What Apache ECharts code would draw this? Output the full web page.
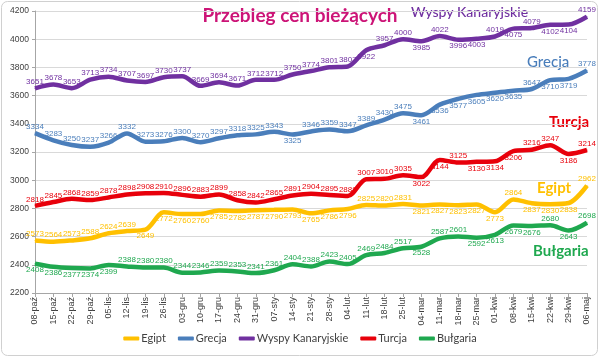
<!DOCTYPE html>
<html>
<head>
<meta charset="utf-8">
<script src="https://cdn.jsdelivr.net/npm/echarts@6/dist/echarts.min.js"></script>
<style>html,body{margin:0;padding:0;background:#fff;}#c{width:600px;height:359px;}</style>
</head>
<body>
<div id="c"></div>
<script>
const categories = ['08-paź','15-paź','22-paź','29-paź','05-lis','12-lis','19-lis','26-lis','03-gru','10-gru','17-gru','24-gru','31-gru','07-sty','14-sty','21-sty','28-sty','04-lut','11-lut','18-lut','25-lut','04-mar','11-mar','18-mar','25-mar','01-kwi','08-kwi','15-kwi','22-kwi','29-kwi','06-maj'];
const egipt = [2573,2564,2573,2588,2624,2639,2649,2772,2760,2760,2785,2782,2787,2790,2793,2765,2786,2796,2825,2820,2831,2821,2827,2823,2827,2773,2864,2837,2830,2838,2962];
const grecja = [3334,3283,3250,3237,3266,3332,3273,3276,3300,3270,3297,3318,3325,3343,3325,3346,3359,3347,3389,3430,3475,3461,3536,3577,3605,3620,3635,3647,3710,3719,3778];
const wyspy = [3651,3678,3653,3713,3734,3707,3697,3730,3737,3669,3694,3671,3712,3712,3750,3774,3801,3807,3922,3957,4000,3985,4022,3996,4003,4019,4075,4079,4102,4104,4159];
const turcja = [2818,2845,2868,2859,2878,2898,2908,2910,2896,2883,2899,2858,2842,2865,2891,2904,2895,2888,3007,3010,3035,3022,3144,3125,3130,3134,3206,3216,3247,3186,3214];
const bulgaria = [2408,2386,2377,2374,2399,2388,2380,2380,2344,2346,2359,2353,2341,2361,2404,2388,2423,2405,2469,2484,2517,2528,2587,2601,2592,2613,2679,2676,2680,2643,2698];
const yMin = 2200, yMax = 4200, yStep = 200;

// label placement (style): indices whose value label sits below the line
const below = {
  'Egipt': [6,7,8,9,10,11,12,13,14,15,16,17,21,22,23,24,25,27,28,29],
  'Grecja': [14,21,22,23,24,25,26,28,29],
  'Wyspy Kanaryjskie': [18,21,23,24,26,28,29],
  'Turcja': [21,22,24,25,26,29],
  'Bułgaria': [0,1,2,3,4,21,24,25,26,27,29]
};
const defs = [
  {name:'Egipt', data: egipt, color:'#FFC000'},
  {name:'Grecja', data: grecja, color:'#4A7EBB'},
  {name:'Wyspy Kanaryjskie', data: wyspy, color:'#7030A0'},
  {name:'Turcja', data: turcja, color:'#E8000B'},
  {name:'Bułgaria', data: bulgaria, color:'#1FA84F'}
];

const series = defs.map(d => ({
  name: d.name,
  type: 'line',
  smooth: 0.3,
  symbol: 'circle',
  symbolSize: 1,
  itemStyle: {color: d.color},
  lineStyle: {width: 4.5, color: d.color},
  label: {show: true, color: d.color, fontSize: 8, fontFamily: 'Liberation Sans', distance: 2},
  data: d.data.map((v, i) => ({value: v, label: {position: below[d.name].includes(i) ? 'bottom' : 'top'}}))
}));

const chart = echarts.init(document.getElementById('c'), null, {renderer: 'canvas'});
chart.setOption({
  backgroundColor: '#fff',
  animation: false,
  grid: {left: 35, right: 13, top: 11, bottom: 66},
  xAxis: {
    type: 'category', data: categories, boundaryGap: false,
    axisLine: {lineStyle: {color: '#A6A6A6'}},
    axisTick: {show: true, interval: 0, length: 4, lineStyle: {color: '#A6A6A6'}},
    axisLabel: {interval: 0, rotate: 90, fontSize: 9, color: '#404040', fontFamily: 'Liberation Sans', margin: 4}
  },
  yAxis: {
    type: 'value', min: yMin, max: yMax, interval: yStep,
    axisLine: {show: true, lineStyle: {color: '#A6A6A6'}},
    axisTick: {show: true, length: 3, lineStyle: {color: '#A6A6A6'}},
    axisLabel: {fontSize: 8.5, color: '#404040', fontFamily: 'Liberation Sans', margin: 6, formatter: v => String(v)},
    splitLine: {lineStyle: {color: '#D9D9D9'}}
  },
  legend: {
    bottom: 10, left: 'center', itemWidth: 16, itemHeight: 4, itemGap: 12,
    icon: 'roundRect',
    textStyle: {fontSize: 11, color: '#404040', fontFamily: 'Lato', padding: [0,0,0,-3]},
    data: defs.map(d => d.name)
  },
  graphic: [
    {type: 'rect', shape: {x: 1.5, y: 1.5, width: 596, height: 354, r: 6}, style: {fill: 'none', stroke: '#D0D0D0', lineWidth: 1}, z: -1},
    {type: 'text', left: 'center', top: 6, style: {text: 'Przebieg cen bieżących', fill: '#CC1477', font: 'bold 19px Lato'}},
    {type: 'text', left: 411, top: 5, style: {text: 'Wyspy Kanaryjskie', fill: '#7030A0', font: '500 14px Lato'}},
    {type: 'text', left: 527, top: 55, style: {text: 'Grecja', fill: '#4A7EBB', font: '500 15px Lato'}},
    {type: 'text', left: 549, top: 115, style: {text: 'Turcja', fill: '#E8000B', font: 'bold 15px Lato'}},
    {type: 'text', left: 537, top: 181, style: {text: 'Egipt', fill: '#FFC000', font: 'bold 15px Lato'}},
    {type: 'text', left: 533, top: 244, style: {text: 'Bułgaria', fill: '#1FA84F', font: 'bold 15px Lato'}}
  ],
  series: series
});
</script>
</body>
</html>
